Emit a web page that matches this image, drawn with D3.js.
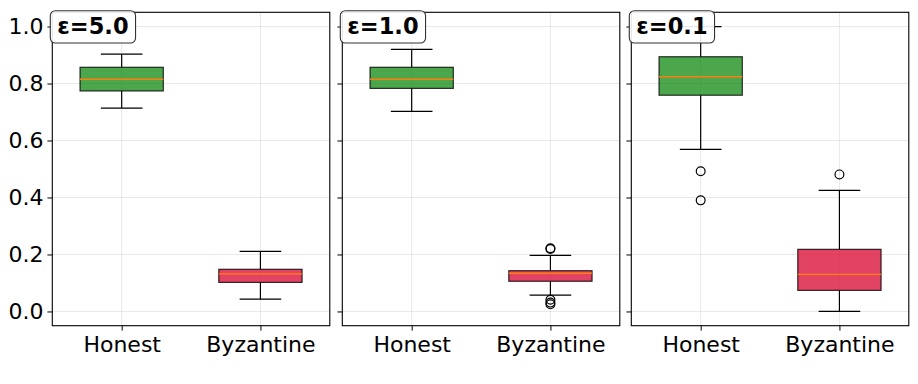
<!DOCTYPE html>
<html><head><meta charset="utf-8">
<script src="https://cdn.jsdelivr.net/npm/d3@7"></script>
<style>
body{margin:0;background:#fff;}
svg{display:block;font-family:"DejaVu Sans",sans-serif;}
</style></head>
<body><svg id="chart" width="918" height="384"></svg>
<script>
// ---- data ----
const panelLabels = ["ε=5.0", "ε=1.0", "ε=0.1"];
const categories = ["Honest", "Byzantine"];
const yTicks = [0.0, 0.2, 0.4, 0.6, 0.8, 1.0];
// [whiskerLow, q1, median, q3, whiskerHigh]
const honestStats = [
  [0.714, 0.774, 0.815, 0.857, 0.903],
  [0.702, 0.783, 0.815, 0.857, 0.920],
  [0.569, 0.759, 0.824, 0.894, 1.000]
];
const byzantineStats = [
  [0.043, 0.102, 0.132, 0.148, 0.211],
  [0.057, 0.106, 0.134, 0.143, 0.197],
  [0.000, 0.074, 0.130, 0.218, 0.425]
];
const honestOutliers = [[], [], [0.492, 0.390]];
const byzantineOutliers = [[], [0.222, 0.219, 0.041, 0.031, 0.025], [0.481]];

const fillColors = ["rgba(0,128,0,0.7)", "rgba(220,20,60,0.8)"];
const medianColor = "#ff7f0e";

// ---- layout ----
const svg = d3.select("#chart");
const panelLefts = [52.3, 342.3, 631.3];
const panelW = 277.5;
const plotTop = 12.3, plotBottom = 325.7;
const fontSize = 22;
const labelFontSize = 22.5;

const y = d3.scaleLinear().domain([-0.05, 1.05]).range([plotBottom, plotTop]);

panelLabels.forEach((label, pi) => {
  const x0 = panelLefts[pi];
  const g = svg.append("g");
  const x = d3.scaleLinear().domain([0.5, 2.5]).range([x0, x0 + panelW]);
  const xPos = d => x(categories.indexOf(d) + 1);

  // grid
  g.selectAll(".hg").data(yTicks).join("line")
    .attr("x1", x0).attr("x2", x0 + panelW)
    .attr("y1", d => y(d)).attr("y2", d => y(d))
    .attr("stroke", "#b0b0b0").attr("stroke-opacity", 0.35).attr("stroke-width", 0.8);
  g.selectAll(".vg").data(categories).join("line")
    .attr("x1", d => xPos(d)).attr("x2", d => xPos(d))
    .attr("y1", plotTop).attr("y2", plotBottom)
    .attr("stroke", "#b0b0b0").attr("stroke-opacity", 0.35).attr("stroke-width", 0.8);

  const stats = [honestStats[pi], byzantineStats[pi]];
  const outs = [honestOutliers[pi], byzantineOutliers[pi]];
  const boxHalf = (x(1.3) - x(1.0));
  const capHalf = (x(1.15) - x(1.0));

  categories.forEach((c, ci) => {
    const s = stats[ci];
    const cx = xPos(c);
    g.append("line").attr("x1", cx).attr("x2", cx).attr("y1", y(s[0])).attr("y2", y(s[1]))
      .attr("stroke", "#000").attr("stroke-width", 1.2);
    g.append("line").attr("x1", cx).attr("x2", cx).attr("y1", y(s[3])).attr("y2", y(s[4]))
      .attr("stroke", "#000").attr("stroke-width", 1.2);
    [s[0], s[4]].forEach(v => {
      g.append("line").attr("x1", cx - capHalf).attr("x2", cx + capHalf)
        .attr("y1", y(v)).attr("y2", y(v)).attr("stroke", "#000").attr("stroke-width", 1.2);
    });
    g.append("rect").attr("x", cx - boxHalf).attr("width", 2 * boxHalf)
      .attr("y", y(s[3])).attr("height", y(s[1]) - y(s[3]))
      .attr("fill", fillColors[ci]).attr("stroke", "#000").attr("stroke-opacity", 0.8).attr("stroke-width", 1.2);
    g.append("line").attr("x1", cx - boxHalf).attr("x2", cx + boxHalf)
      .attr("y1", y(s[2])).attr("y2", y(s[2])).attr("stroke", medianColor).attr("stroke-width", 1.4);
    g.selectAll(null).data(outs[ci]).join("circle")
      .attr("cx", cx).attr("cy", d => y(d)).attr("r", 4.4)
      .attr("fill", "none").attr("stroke", "#000").attr("stroke-width", 1.2);
  });

  g.append("rect").attr("x", x0).attr("y", plotTop).attr("width", panelW).attr("height", plotBottom - plotTop)
    .attr("fill", "none").attr("stroke", "#000").attr("stroke-width", 1.1);

  const yAxis = d3.axisLeft(y).tickValues(yTicks).tickSize(4.9).tickPadding(4)
    .tickFormat(pi === 0 ? d3.format(".1f") : () => "");
  const ya = g.append("g").attr("transform", `translate(${x0},0)`).call(yAxis);
  ya.select(".domain").remove();
  ya.selectAll("line").attr("stroke", "#000").attr("stroke-width", 1);
  ya.selectAll("text").attr("font-size", fontSize).attr("fill", "#000")
    .attr("font-family", "DejaVu Sans");

  const xb = d3.scalePoint().domain(categories).range([x(1), x(2)]);
  const xAxis = d3.axisBottom(xb).tickSize(4.9).tickPadding(6);
  const xa = g.append("g").attr("transform", `translate(0,${plotBottom})`).call(xAxis);
  xa.select(".domain").remove();
  xa.selectAll("line").attr("stroke", "#000").attr("stroke-width", 1);
  xa.selectAll("text").attr("font-size", fontSize).attr("fill", "#000")
    .attr("font-family", "DejaVu Sans");

  const lg = g.append("g");
  const tx = x0 + 5;
  const t = lg.append("text").attr("x", tx).attr("y", 34)
    .attr("font-size", labelFontSize).attr("font-weight", "bold").attr("fill", "#000")
    .attr("font-family", "DejaVu Sans").text(label);
  const len = t.node().getComputedTextLength();
  lg.insert("rect", "text").attr("x", tx - 7).attr("y", 10.7)
    .attr("width", len + 14).attr("height", 32.3).attr("rx", 5).attr("ry", 5)
    .attr("fill", "#fff").attr("fill-opacity", 0.9)
    .attr("stroke", "#333").attr("stroke-width", 1.1);
});
</script></body></html>
